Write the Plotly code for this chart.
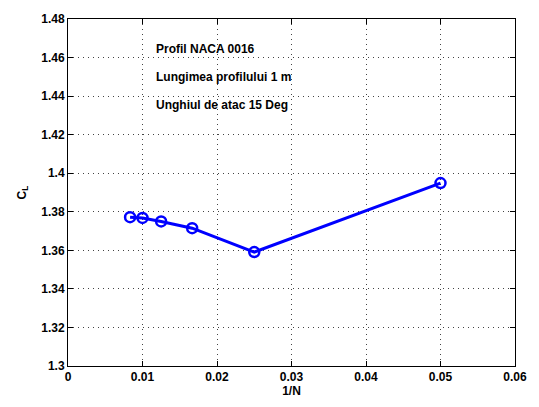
import plotly.graph_objects as go

inv_n = [1/120, 1/100, 1/80, 1/60, 1/40, 1/20]
cl = [1.3772, 1.3768, 1.3750, 1.3715, 1.3591, 1.3949]
notes = ["Profil NACA 0016", "Lungimea profilului 1 m", "Unghiul de atac 15 Deg"]
note_y = [1.4645, 1.4498, 1.4352]
note_x = 0.0115

FONT = "Liberation Sans, Arial, Helvetica, sans-serif"

fig = go.Figure()
fig.add_trace(go.Scatter(
    x=inv_n, y=cl, mode="lines+markers",
    line=dict(color="#0000ff", width=3),
    marker=dict(symbol="circle-open", size=10, color="#0000ff", line=dict(width=2.5, color="#0000ff")),
    showlegend=False,
))
for t, yy in zip(notes, note_y):
    fig.add_annotation(x=note_x, y=yy, text=t, showarrow=False, xanchor="left", yanchor="middle",
                       font=dict(family=FONT, size=12, color="black", weight="bold"))

axis_common = dict(
    showline=True, linecolor="black", linewidth=1, mirror="ticks",
    ticks="inside", ticklen=5, tickcolor="black",
    showgrid=True, gridcolor="#444444", griddash="1px,4px", gridwidth=1,
    zeroline=False,
    tickfont=dict(family=FONT, size=12, color="black", weight="bold"),
)
fig.update_xaxes(range=[0, 0.06], dtick=0.01, tick0=0,
                 title=dict(text="1/N", font=dict(family=FONT, size=12, color="black", weight="bold"), standoff=2),
                 **axis_common)
fig.update_yaxes(range=[1.3, 1.48], dtick=0.02, tick0=1.3,
                 title=dict(text="C<sub>L</sub>", font=dict(family=FONT, size=12, color="black", weight="bold"), standoff=12),
                 **axis_common)
fig.update_layout(
    width=539, height=407,
    margin=dict(l=68, r=21, t=15, b=34),
    paper_bgcolor="white", plot_bgcolor="white",
)
fig.write_html("out.html")
